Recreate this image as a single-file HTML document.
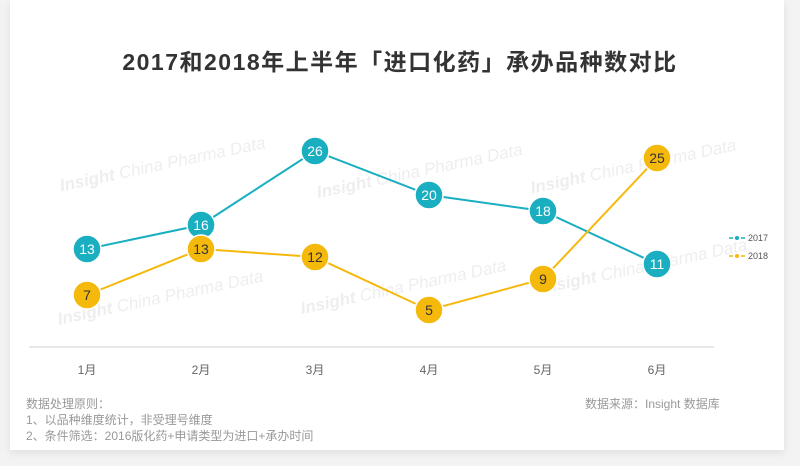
<!DOCTYPE html>
<html><head><meta charset="utf-8"><style>
body{margin:0;width:800px;height:466px;background:#f3f3f3;font-family:"Liberation Sans","Noto Sans CJK SC",sans-serif;overflow:hidden}
.card{position:absolute;left:10px;top:0;width:774px;height:450px;background:#fff;box-shadow:0 3px 8px rgba(0,0,0,0.08)}
</style></head><body>
<div class="card"></div>
<svg width="800" height="466" style="position:absolute;left:0;top:0" font-family="Liberation Sans, Noto Sans CJK SC, sans-serif">
<text x="400" y="70" text-anchor="middle" font-size="23" font-weight="bold" fill="#333" letter-spacing="1.5">2017和2018年上半年「进口化药」承办品种数对比</text>
<g fill="#eeeeee" font-size="17" font-style="italic" transform="rotate(-12)">
<text x="20" y="200"><tspan font-weight="bold">Insight</tspan> China Pharma Data</text>
<text x="270" y="260"><tspan font-weight="bold">Insight</tspan> China Pharma Data</text>
<text x="480" y="300"><tspan font-weight="bold">Insight</tspan> China Pharma Data</text>
<text x="-10" y="330"><tspan font-weight="bold">Insight</tspan> China Pharma Data</text>
<text x="230" y="370"><tspan font-weight="bold">Insight</tspan> China Pharma Data</text>
<text x="470" y="400"><tspan font-weight="bold">Insight</tspan> China Pharma Data</text>
</g>
<line x1="29" y1="347" x2="714" y2="347" stroke="#e8e8e8" stroke-width="2"/>
<g font-size="12" fill="#666" text-anchor="middle">
<text x="87" y="374">1月</text><text x="201" y="374">2月</text><text x="315" y="374">3月</text><text x="429" y="374">4月</text><text x="543" y="374">5月</text><text x="657" y="374">6月</text>
</g>
<polyline points="87,249 201,225 315,151 429,195 543,211 657,264" fill="none" stroke="#19aec0" stroke-width="2"/>
<polyline points="87,295 201,249 315,257 429,310 543,279 657,158" fill="none" stroke="#f5b90c" stroke-width="2"/>
<g fill="#19aec0" stroke="#fff" stroke-width="1.5">
<circle cx="87" cy="249" r="14"/><circle cx="201" cy="225" r="14"/><circle cx="315" cy="151" r="14"/><circle cx="429" cy="195" r="14"/><circle cx="543" cy="211" r="14"/><circle cx="657" cy="264" r="14"/>
</g>
<g fill="#f5b90c" stroke="#fff" stroke-width="1.5">
<circle cx="87" cy="295" r="14"/><circle cx="201" cy="249" r="14"/><circle cx="315" cy="257" r="14"/><circle cx="429" cy="310" r="14"/><circle cx="543" cy="279" r="14"/><circle cx="657" cy="158" r="14"/>
</g>
<g font-size="14" text-anchor="middle" fill="#fff">
<text x="87" y="254">13</text><text x="201" y="230">16</text><text x="315" y="156">26</text><text x="429" y="200">20</text><text x="543" y="216">18</text><text x="657" y="269">11</text>
</g>
<g font-size="14" text-anchor="middle" fill="#333">
<text x="87" y="300">7</text><text x="201" y="254">13</text><text x="315" y="262">12</text><text x="429" y="315">5</text><text x="543" y="284">9</text><text x="657" y="163">25</text>
</g>
<g font-size="9" fill="#555">
<line x1="729" y1="238" x2="746" y2="238" stroke="#19aec0" stroke-width="1.5" stroke-dasharray="4,2"/><circle cx="737" cy="238" r="2" fill="#19aec0"/>
<text x="748" y="241">2017</text>
<line x1="729" y1="256" x2="746" y2="256" stroke="#f5b90c" stroke-width="1.5" stroke-dasharray="4,2"/><circle cx="737" cy="256" r="2" fill="#f5b90c"/>
<text x="748" y="259">2018</text>
</g>
<g font-size="12" fill="#999">
<text x="26" y="408">数据处理原则：</text>
<text x="26" y="424">1、以品种维度统计，非受理号维度</text>
<text x="26" y="440">2、条件筛选：2016版化药+申请类型为进口+承办时间</text>
<text x="585" y="408">数据来源：Insight 数据库</text>
</g>
</svg>
</body></html>
